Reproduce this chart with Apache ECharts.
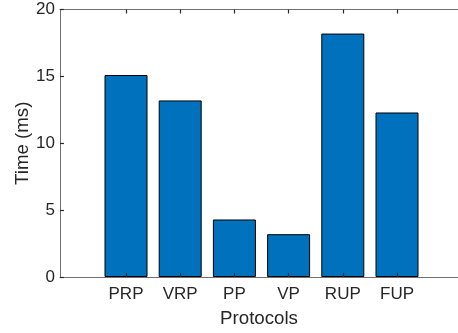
<!DOCTYPE html>
<html><head><meta charset="utf-8">
<script src="https://cdn.jsdelivr.net/npm/echarts@6/dist/echarts.min.js"></script>
<style>html,body{margin:0;padding:0;background:#fff}#c{width:458px;height:333px}</style>
</head><body><div id="c"></div>
<script>
var categories = ['PRP','VRP','PP','VP','RUP','FUP'];
var times = [15.1, 13.2, 4.3, 3.2, 18.2, 12.3];
var yTicks = [0, 5, 10, 15, 20];

var font = 'Liberation Sans, Arial, Helvetica, sans-serif';
var axisCol = '#707070';
var tickCol = '#2a2a2a';
var textCol = '#262626';
var chart = echarts.init(document.getElementById('c'));
var catBase = {
  type: 'category', gridIndex: 0, data: categories, boundaryGap: true, z: 5,
  axisLine: {show: false},
  axisTick: {show: true, inside: true, length: 4, alignWithLabel: true, lineStyle: {color: tickCol, width: 1.2}},
  splitLine: {show: false}
};
var frameX = {
  type: 'value', gridIndex: 1, min: 0, max: 1, z: 4,
  axisLine: {show: true, onZero: false, lineStyle: {color: axisCol, width: 1}},
  axisTick: {show: false}, axisLabel: {show: false}, splitLine: {show: false}
};
chart.setOption({
  animation: false,
  grid: [
    {left: 98.9, top: 9.5, bottom: 56, width: 325.2, containLabel: false},
    {left: 60, top: 9.5, bottom: 56, right: -3, containLabel: false}
  ],
  xAxis: [
    Object.assign({}, catBase, {
      position: 'bottom',
      axisLabel: {fontFamily: font, fontSize: 17, color: textCol, margin: 9}
    }),
    Object.assign({}, catBase, {position: 'top', axisLabel: {show: false}}),
    Object.assign({}, frameX, {
      position: 'bottom',
      name: 'Protocols', nameLocation: 'middle', nameGap: 32, nameMoveOverlap: false,
      nameTextStyle: {fontFamily: font, fontSize: 18.7, color: textCol}
    }),
    Object.assign({}, frameX, {position: 'top'})
  ],
  yAxis: [
    {type: 'value', gridIndex: 0, min: 0, max: 20, interval: 5, show: false},
    {
      type: 'value', gridIndex: 1, min: 0, max: 20, interval: 5, z: 5,
      name: 'Time (ms)', nameLocation: 'middle', nameGap: 27.5, nameMoveOverlap: false,
      nameTextStyle: {fontFamily: font, fontSize: 18.7, color: textCol},
      splitLine: {show: false},
      axisLine: {show: true, onZero: false, lineStyle: {color: axisCol, width: 1}},
      axisTick: {show: true, inside: true, length: 4, lineStyle: {color: tickCol, width: 1.2}},
      axisLabel: {fontFamily: font, fontSize: 17, color: textCol, margin: 5}
    }
  ],
  series: [{
    type: 'bar', xAxisIndex: 0, yAxisIndex: 0,
    barWidth: 43,
    data: times,
    itemStyle: {color: '#0072BD', borderColor: '#000', borderWidth: 1}
  }]
});
</script></body></html>
